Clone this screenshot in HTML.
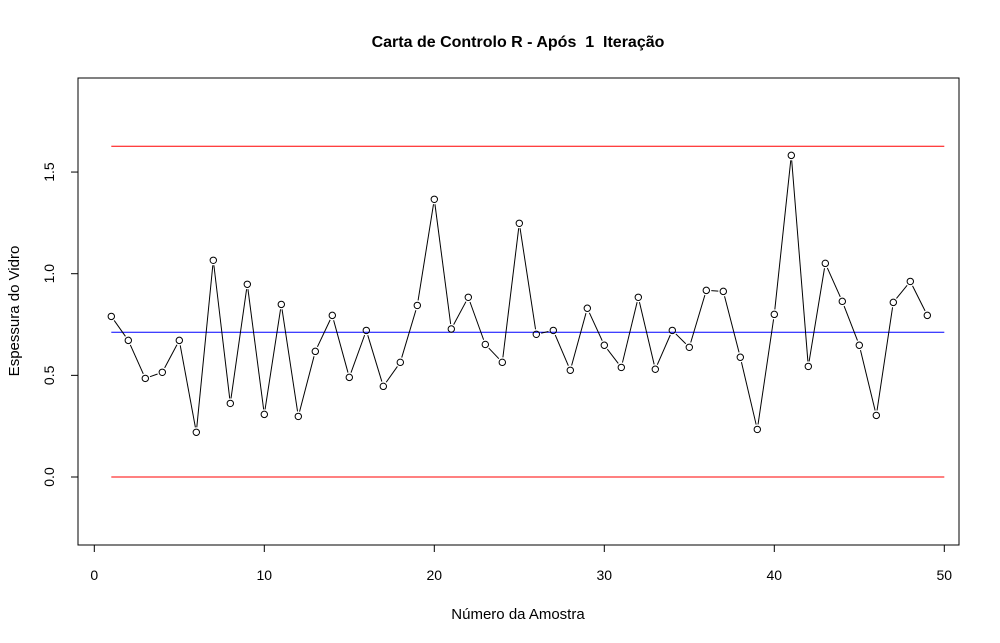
<!DOCTYPE html>
<html><head><meta charset="utf-8">
<style>
html,body{margin:0;padding:0;background:#fff;}
svg{display:block;font-family:"Liberation Sans",Arial,sans-serif;}
</style></head>
<body>
<svg id="chart" width="1000" height="643" viewBox="0 0 1000 643" xmlns="http://www.w3.org/2000/svg">
<rect x="0" y="0" width="1000" height="643" fill="#fff"/>
<text x="518" y="47" text-anchor="middle" font-size="16" font-weight="bold" style="white-space:pre" xml:space="preserve">Carta de Controlo R - Após  1  Iteração</text>
<text x="518" y="619" text-anchor="middle" font-size="15">Número da Amostra</text>
<text transform="translate(19,311) rotate(-90)" text-anchor="middle" font-size="15">Espessura do Vidro</text>
<rect x="78" y="78" width="881" height="467" fill="none" stroke="#000" stroke-width="1"/>
<g id="axes"></g>
<g id="lines"></g>
<g id="series"></g>
</svg>
<script>
const samples = [];
for (let i = 1; i <= 49; i++) samples.push(i);
const ranges = [0.790,0.672,0.485,0.515,0.672,0.220,1.066,0.362,0.948,0.308,0.849,0.298,0.618,0.795,0.490,0.721,0.446,0.564,0.844,1.366,0.728,0.884,0.652,0.564,1.248,0.702,0.721,0.525,0.830,0.648,0.539,0.884,0.530,0.721,0.638,0.918,0.913,0.589,0.234,0.800,1.582,0.544,1.051,0.864,0.648,0.303,0.859,0.962,0.795];
const xTicks = [0,10,20,30,40,50];
const yTicks = [0.0,0.5,1.0,1.5];
const yTickLabels = ["0.0","0.5","1.0","1.5"];
const ucl = 1.627, cl = 0.712, lcl = 0.0;
const limitStart = 1, limitEnd = 50;

const NS = "http://www.w3.org/2000/svg";
const xs = v => 94.3 + v * 17.0;
const ys = v => 477 - v * 203.3;
function mk(tag, attrs, parent){ const e=document.createElementNS(NS,tag); for(const k in attrs) e.setAttribute(k,attrs[k]); parent.appendChild(e); return e; }

const axes=document.getElementById('axes');
mk('line',{x1:xs(xTicks[0]),x2:xs(xTicks[xTicks.length-1]),y1:545,y2:545,stroke:'#000'},axes);
xTicks.forEach(t=>{
  const l=mk('line',{x1:xs(t),x2:xs(t),y1:545,y2:552,stroke:'#000'},axes);
  
  
  const tx=mk('text',{x:xs(t),y:580,'text-anchor':'middle','font-size':'14'},axes);
  tx.textContent=t;
  
  
});
mk('line',{x1:78,x2:78,y1:ys(yTicks[0]),y2:ys(yTicks[yTicks.length-1]),stroke:'#000'},axes);
yTicks.forEach((t,i)=>{
  const l=mk('line',{x1:71,x2:78,y1:ys(t),y2:ys(t),stroke:'#000'},axes);
  
  
  const tx=mk('text',{transform:`translate(54,${ys(t)}) rotate(-90)`,'text-anchor':'middle','font-size':'14'},axes);
  tx.textContent=yTickLabels[i];
  
  
});

const lines=document.getElementById('lines');
const u=mk('line',{x1:xs(limitStart),x2:xs(limitEnd),y1:ys(ucl),y2:ys(ucl),stroke:'#ff0000'},lines);


const c=mk('line',{x1:xs(limitStart),x2:xs(limitEnd),y1:ys(cl),y2:ys(cl),stroke:'#0000ff'},lines);


const lo=mk('line',{x1:xs(limitStart),x2:xs(limitEnd),y1:ys(lcl),y2:ys(lcl),stroke:'#ff0000'},lines);



const series=document.getElementById('series');
const gap=5;
for(let i=0;i<samples.length-1;i++){
  const x1=xs(samples[i]),y1=ys(ranges[i]),x2=xs(samples[i+1]),y2=ys(ranges[i+1]);
  const d=Math.hypot(x2-x1,y2-y1);
  if(d<=2*gap) continue;
  const ux=(x2-x1)/d, uy=(y2-y1)/d;
  const s=mk('line',{x1:x1+ux*gap,y1:y1+uy*gap,x2:x2-ux*gap,y2:y2-uy*gap,stroke:'#000','stroke-width':'1'},series);
  
  
}
samples.forEach((s,i)=>{
  const p=mk('circle',{cx:xs(s),cy:ys(ranges[i]),r:3.2,fill:'none',stroke:'#000','stroke-width':'1'},series);
  
  
});
</script>
</body></html>
